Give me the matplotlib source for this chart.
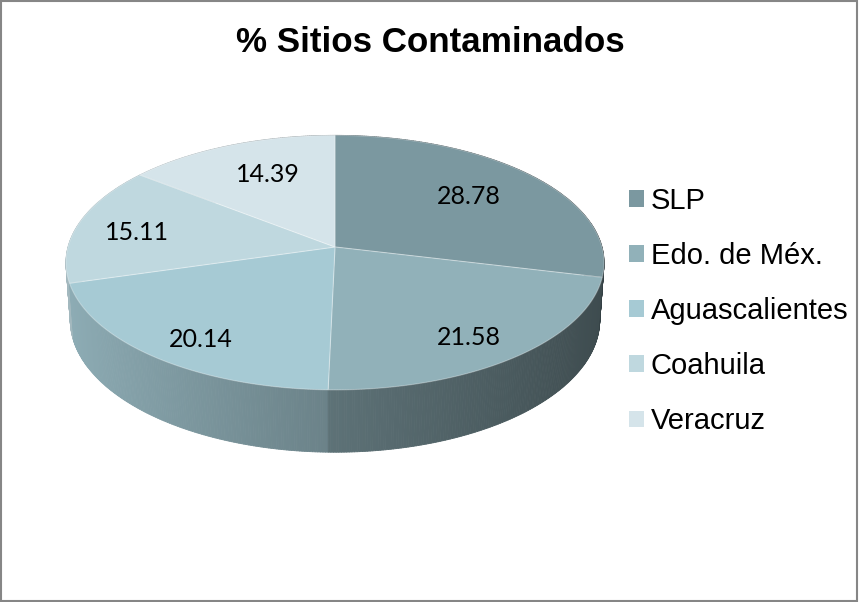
import numpy as np
import matplotlib.pyplot as plt
from matplotlib.patches import Polygon, Patch, Rectangle
from matplotlib.collections import PolyCollection
from matplotlib.colors import to_rgb

title = "% Sitios Contaminados"
states = ["SLP", "Edo. de Méx.", "Aguascalientes", "Coahuila", "Veracruz"]
percent = [28.78, 21.58, 20.14, 15.11, 14.39]
colors = ["#7b98a0", "#91b1b9", "#a6cad4", "#bfd8df", "#d5e4ea"]

# small nudges (points) so the value labels sit where Excel puts them
label_nudge = [(-6.5, -2), (6, -10), (-6, -11), (-9, -2), (8, -2)]

# camera for the 3d look
TILT = np.radians(28)
DIST = 7.2
THICK = 0.246


def project(theta, r=1.0, h=0.0):
    """perspective projection of a point of the pie, theta clockwise from the back"""
    x = r * np.sin(theta)
    z = -r * np.cos(theta)
    depth = DIST - (h * np.sin(TILT) + z * np.cos(TILT))
    v = h * np.cos(TILT) - z * np.sin(TILT)
    return DIST * x / depth, DIST * v / depth


def shade(theta):
    """side wall light: bright on the left, dark on the right"""
    return 0.64 - 0.22 * np.sin(theta)


def main():
    fig = plt.figure(figsize=(8.59, 6.02), dpi=100)
    ax = fig.add_axes([0, 0, 1, 1])
    scale = 267
    ax.set_xlim(-335 / scale, 524 / scale)
    ax.set_ylim(-355 / scale, 247 / scale)
    ax.axis("off")

    fractions = np.array(percent) / sum(percent)
    edges = np.concatenate([[0], np.cumsum(fractions)]) * 2 * np.pi

    # side walls, drawn back to front
    quads, quad_colors, keys = [], [], []
    for i, col in enumerate(colors):
        base = np.array(to_rgb(col))
        th = np.linspace(edges[i], edges[i + 1], max(int(np.degrees(edges[i + 1] - edges[i]) * 2), 2))
        for t0, t1 in zip(th[:-1], th[1:]):
            tm = (t0 + t1) / 2
            quads.append([project(t0), project(t1), project(t1, h=-THICK), project(t0, h=-THICK)])
            quad_colors.append(np.clip(base * shade(tm), 0, 1))
            keys.append(-np.cos(tm))
    order = np.argsort(keys)
    walls = PolyCollection([quads[k] for k in order],
                           facecolors=[quad_colors[k] for k in order],
                           edgecolors=[quad_colors[k] for k in order],
                           linewidths=0.6)
    ax.add_collection(walls)

    # top face
    for i, col in enumerate(colors):
        th = np.linspace(edges[i], edges[i + 1], 200)
        pts = [project(0, r=0)] + [project(t) for t in th]
        ax.add_patch(Polygon(pts, closed=True, facecolor=col,
                             edgecolor=(1, 1, 1, 0.3), linewidth=0.8))

    # value labels
    for i, val in enumerate(percent):
        mid = (edges[i] + edges[i + 1]) / 2
        ax.annotate(f"{val:.2f}", project(mid, r=0.72), xytext=label_nudge[i],
                    textcoords="offset points", ha="center", va="center",
                    fontsize=18, family="Lato", color="black")

    fig.text(0.5015, 1 - 43 / 602, title, ha="center", va="center",
             fontsize=25.2, fontweight="bold", family="Liberation Sans")

    handles = [Patch(facecolor=c, edgecolor="none") for c in colors]
    fig.legend(handles, states, loc="center left",
               bbox_to_anchor=(629 / 859, 1 - 311 / 602),
               frameon=False, prop={"family": "Liberation Sans", "size": 21},
               handlelength=0.5, handleheight=0.5, handletextpad=0.24,
               labelspacing=0.93, borderpad=0, borderaxespad=0)

    fig.patches.append(Rectangle((0.001, 0.002), 0.997, 0.996, transform=fig.transFigure,
                                 fill=False, edgecolor="#868686", linewidth=1.5))

    fig.savefig("out.png", dpi=100)


if __name__ == "__main__":
    main()
